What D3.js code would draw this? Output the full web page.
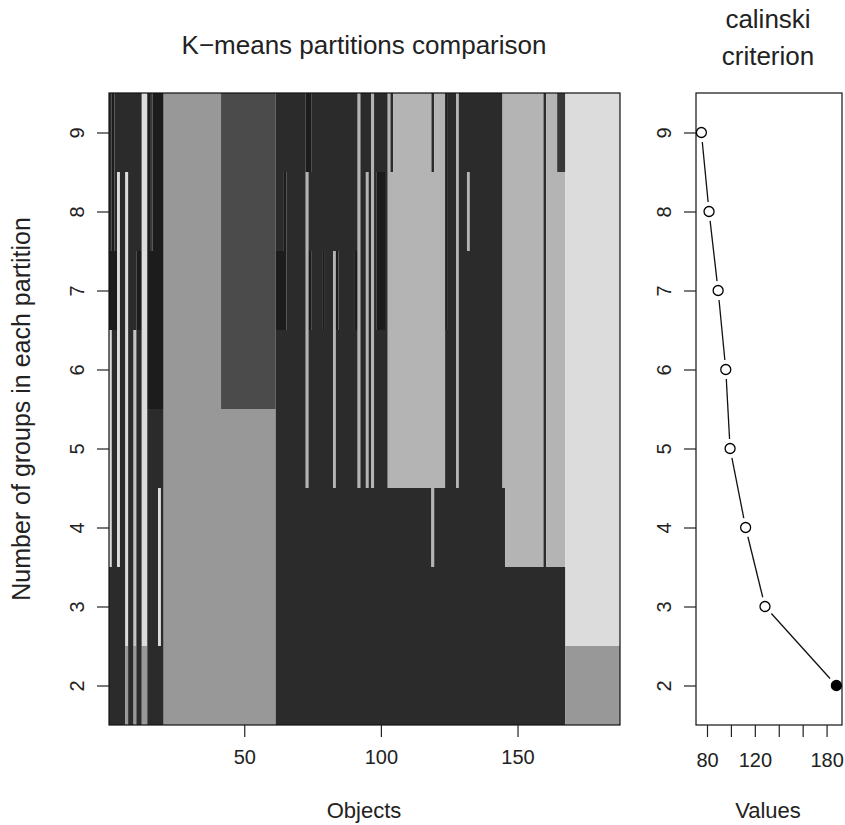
<!DOCTYPE html>
<html lang="en">
<head>
  <meta charset="UTF-8">
  <title>K-means partitions comparison</title>
  <script src="https://d3js.org/d3.v7.min.js"></script>
  <style>
    body { margin: 0; background: #fff; }
    svg text { font-family: "Liberation Sans", Arial, sans-serif; fill: #222; }
  </style>
</head>
<body>
  <div id="chart">
  <!-- chart goes here -->
  </div>
  <script type="text/javascript">
    // number of groups (one row of the cascade per value)
    var groups = [2, 3, 4, 5, 6, 7, 8, 9];
    // calinski criterion for each number of groups
    var calinski = [188.2, 128.5, 112.3, 99.3, 95.7, 89.3, 81.7, 75.3];
    var nObjects = 187;

    // each partition read as runs of objects: "<count><grey>"
    var part2 = ["6D","1G","2D","1G","2D","2G","6D","41G","106D","20G"];
    var part3 = ["6D","1W","2D","1V","2D","2W","4D","1W","1D","41G","106D","20W"];
    var part4 = ["1W","2D","1W","2D","1W","2D","1V","2D","2W","4D","1W","1D","41G",
                 "57D","1L","26D","14L","1D","7L","20W"];
    var part5 = ["1W","2D","1W","2D","1W","2D","1V","2D","2W","6D","41G",
                 "11D","1L","9D","1L","8D","1L","2D","1L","1D","1L","5D","21L","4D","1L","16D",
                 "15L","1D","7L","20W"];
    var part6 = ["1W","2D","1W","2D","1W","2D","1V","2D","2W","6K","21G","20E",
                 "11D","1L","9D","1L","8D","1L","2D","1L","1D","1L","5D","21L","4D","1L","16D",
                 "15L","1D","7L","20W"];
    var part7 = ["3K","1W","2D","1W","3D","2K","2W","6K","21G","20E",
                 "4K","7D","1L","1K","4D","1K","3D","1L","1K","6D","1K","1L","2D","1L","1D","1L",
                 "1D","3K","1D","21L","1K","3D","1L","16D","15L","1D","7L","20W"];
    var part8 = ["1D","1K","1D","1W","2D","1W","5D","2W","1K","1M","4K","21G","20E",
                 "3D","1K","7D","1L","18D","1L","2D","1L","1D","1L","1D","3K","1D","21L","1K",
                 "3D","1L","3D","1L","12D","15L","1D","7L","20W"];
    var part9 = ["1D","1K","10D","2W","1K","1M","4K","21G","20E",
                 "11D","2K","17D","1L","4D","1L","5D","1L","1D","14L","1D","4L","1K","3D","1L",
                 "16D","15L","1D","4L","3M","20W"];
    var partitions = [part2, part3, part4, part5, part6, part7, part8, part9];

    var greys = { K: "#1c1c1c", D: "#2b2b2b", M: "#383838", E: "#4b4b4b",
                  G: "#989898", L: "#b4b4b4", V: "#c4c4c4", W: "#dcdcdc" };

    var objectTicks = [50, 100, 150];
    var valueTicks = [80, 100, 120, 140, 160, 180];
    var valueTickLabels = [80, 120, 180];

    var svg = d3.select("#chart").append("svg")
      .attr("width", 845).attr("height", 825);

    var plotTop = 93, plotBottom = 725;
    var x = d3.scaleLinear().domain([0.5, nObjects + 0.5]).range([109, 620]);
    var y = d3.scaleLinear().domain([1.5, 9.5]).range([plotBottom, plotTop]);
    var vx = d3.scaleLinear().domain([70.8, 192.9]).range([696, 842]);

    // turn run lists into cells
    var cells = [];
    partitions.forEach(function (runs, i) {
      var start = 1;
      runs.forEach(function (r) {
        var count = +r.slice(0, -1), shade = r.slice(-1);
        cells.push({ k: groups[i], from: start, to: start + count - 1, shade: shade });
        start += count;
      });
    });

    svg.append("g").selectAll("rect")
      .data(cells)
      .enter()
      .append("rect")
        .attr("x", function (d) { return x(d.from - 0.5); })
        .attr("width", function (d) { return x(d.to + 0.5) - x(d.from - 0.5); })
        .attr("y", function (d) { return y(d.k + 0.5); })
        .attr("height", function (d) { return y(d.k - 0.5) - y(d.k + 0.5); })
        .attr("fill", function (d) { return greys[d.shade]; });

    svg.append("rect")
      .attr("x", 109).attr("y", plotTop).attr("width", 511).attr("height", plotBottom - plotTop)
      .attr("fill", "none").attr("stroke", "#111").attr("stroke-width", 1.2);

    function styleAxis(g) {
      g.select(".domain").remove();
      g.selectAll(".tick line").attr("stroke", "#222").attr("stroke-width", 1.2);
      g.selectAll(".tick text").style("font-size", "20px").attr("fill", "#222");
    }

    // left panel axes
    svg.append("g")
      .attr("transform", "translate(0," + plotBottom + ")")
      .call(d3.axisBottom(x).tickValues(objectTicks).tickSize(12).tickPadding(13))
      .call(styleAxis);

    function rotatedY(g) {
      styleAxis(g);
      g.selectAll(".tick text")
        .attr("transform", "rotate(-90)")
        .attr("x", 0).attr("y", -25).attr("dy", 0)
        .attr("text-anchor", "middle");
    }

    svg.append("g")
      .attr("transform", "translate(109,0)")
      .call(d3.axisLeft(y).tickValues(groups).tickSize(12))
      .call(rotatedY);

    // right panel
    svg.append("rect")
      .attr("x", 696).attr("y", plotTop).attr("width", 146).attr("height", plotBottom - plotTop)
      .attr("fill", "none").attr("stroke", "#111").attr("stroke-width", 1.2);

    svg.append("g")
      .attr("transform", "translate(0," + plotBottom + ")")
      .call(d3.axisBottom(vx).tickValues(valueTicks).tickSize(12).tickPadding(16)
        .tickFormat(function (d) { return valueTickLabels.indexOf(d) >= 0 ? d : ""; }))
      .call(styleAxis);

    svg.append("g")
      .attr("transform", "translate(696,0)")
      .call(d3.axisLeft(y).tickValues(groups).tickSize(12))
      .call(rotatedY);

    var pts = groups.map(function (k, i) { return { k: k, v: calinski[i] }; });
    var gap = 9.5;
    var segs = [];
    for (var i = 0; i < pts.length - 1; i++) {
      var x1 = vx(pts[i].v), y1 = y(pts[i].k), x2 = vx(pts[i + 1].v), y2 = y(pts[i + 1].k);
      var len = Math.sqrt((x2 - x1) * (x2 - x1) + (y2 - y1) * (y2 - y1));
      var ux = (x2 - x1) / len, uy = (y2 - y1) / len;
      segs.push([[x1 + ux * gap, y1 + uy * gap], [x2 - ux * gap, y2 - uy * gap]]);
    }
    svg.append("g").selectAll("path")
      .data(segs)
      .enter()
      .append("path")
        .attr("d", d3.line())
        .attr("stroke", "#111").attr("stroke-width", 1.3).attr("fill", "none");

    var best = d3.max(calinski);
    svg.append("g").selectAll("circle")
      .data(pts)
      .enter()
      .append("circle")
        .attr("cx", function (d) { return vx(d.v); })
        .attr("cy", function (d) { return y(d.k); })
        .attr("r", 5)
        .attr("fill", function (d) { return d.v === best ? "#000" : "#fff"; })
        .attr("stroke", "#000").attr("stroke-width", 1.3);

    // titles
    svg.append("text").attr("x", 364).attr("y", 54).attr("text-anchor", "middle")
      .style("font-size", "26px").text("K\u2212means partitions comparison");
    svg.append("text").attr("x", 768).attr("y", 28).attr("text-anchor", "middle")
      .style("font-size", "26px").text("calinski");
    svg.append("text").attr("x", 768).attr("y", 65).attr("text-anchor", "middle")
      .style("font-size", "26px").text("criterion");
    svg.append("text").attr("x", 364).attr("y", 818).attr("text-anchor", "middle")
      .style("font-size", "22px").text("Objects");
    svg.append("text").attr("x", 768).attr("y", 818).attr("text-anchor", "middle")
      .style("font-size", "22px").text("Values");
    svg.append("text").attr("transform", "translate(30,409) rotate(-90)")
      .attr("text-anchor", "middle")
      .style("font-size", "25px").text("Number of groups in each partition");
  </script>
</body>
</html>
